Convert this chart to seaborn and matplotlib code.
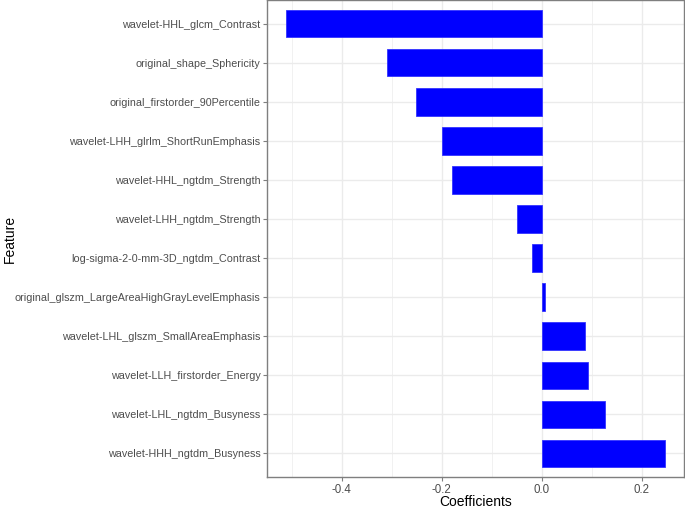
import matplotlib
matplotlib.use("Agg")
import matplotlib.pyplot as plt
import seaborn as sns
import pandas as pd
import numpy as np

features = [
    "wavelet-HHL_glcm_Contrast",
    "original_shape_Sphericity",
    "original_firstorder_90Percentile",
    "wavelet-LHH_glrlm_ShortRunEmphasis",
    "wavelet-HHL_ngtdm_Strength",
    "wavelet-LHH_ngtdm_Strength",
    "log-sigma-2-0-mm-3D_ngtdm_Contrast",
    "original_glszm_LargeAreaHighGrayLevelEmphasis",
    "wavelet-LHL_glszm_SmallAreaEmphasis",
    "wavelet-LLH_firstorder_Energy",
    "wavelet-LHL_ngtdm_Busyness",
    "wavelet-HHH_ngtdm_Busyness",
]
coefficients = [-0.511, -0.309, -0.252, -0.200, -0.180, -0.050, -0.020,
                0.007, 0.087, 0.093, 0.127, 0.247]
x_ticks = [-0.4, -0.2, 0.0, 0.2]
x_tick_labels = ["-0.4", "-0.2", "0.0", "0.2"]
x_minor = [-0.5, -0.3, -0.1, 0.1]

df = pd.DataFrame({"Feature": features, "Coefficients": coefficients})

sns.set_theme(style="white")
plt.rcParams["font.family"] = ["Liberation Sans", "DejaVu Sans"]

fig = plt.figure(figsize=(6.85, 5.08), dpi=100)
ax = fig.add_axes([0.3902, 0.0616, 0.6088, 0.9377])

sns.barplot(data=df, x="Coefficients", y="Feature", orient="h",
            color="#0000FF", saturation=1, width=0.7, ax=ax,
            edgecolor="#3333FF", linewidth=0.6, zorder=3)

lo, hi = min(coefficients), max(coefficients)
pad = (hi - lo) * 0.05
ax.set_xlim(lo - pad, hi + pad)
ax.set_ylim(len(features) - 1 + 0.6, -0.6)

ax.set_xticks(x_ticks)
ax.set_xticklabels(x_tick_labels)
ax.set_xticks(x_minor, minor=True)

ax.grid(True, which="major", color="#EBEBEB", linewidth=1.0, zorder=0)
ax.grid(True, which="minor", axis="x", color="#EBEBEB", linewidth=0.5, zorder=0)
ax.set_axisbelow(True)

for s in ax.spines.values():
    s.set_visible(True)
    s.set_color("#7F7F7F")
    s.set_linewidth(1.0)

ax.tick_params(axis="y", which="major", length=3, width=0.8, color="#7F7F7F",
               labelcolor="#4D4D4D", labelsize=7.75, pad=2, left=True)
ax.tick_params(axis="x", which="major", length=3, width=0.8, color="#7F7F7F",
               labelcolor="#4D4D4D", labelsize=8.3, pad=2, bottom=True)
ax.tick_params(axis="x", which="minor", length=0)

ax.set_xlabel("Coefficients", fontsize=10, color="black")
ax.set_ylabel("Feature", fontsize=10, color="black")
ax.xaxis.set_label_coords(0.5, -0.038)
ax.yaxis.set_label_coords(-0.600, 0.5)

fig.savefig("out.png", dpi=100)
